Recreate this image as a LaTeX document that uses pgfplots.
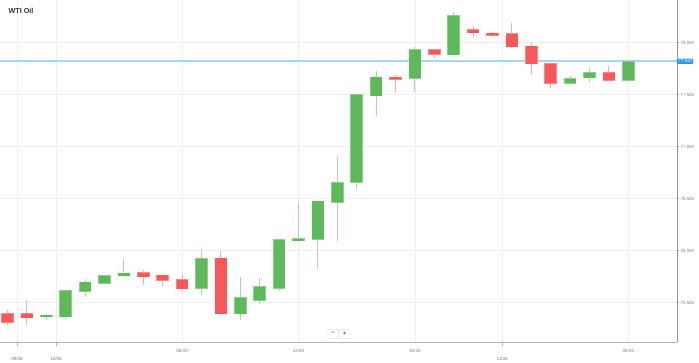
\documentclass[border=0pt]{standalone}
\usepackage{fontspec}
\setmainfont{Liberation Sans}
\usepackage{pgfplots}
\pgfplotsset{compat=1.18}
\usepackage{pgfplotstable}
\definecolor{cgreen}{RGB}{94,185,90}
\definecolor{cred}{RGB}{248,88,88}
\definecolor{gridc}{RGB}{238,238,238}
\definecolor{griddate}{RGB}{226,226,226}
\definecolor{pricebox}{RGB}{40,150,240}
\definecolor{labc}{RGB}{120,120,120}

\pgfplotstableread{
k o h l c
2  75.363 75.387 75.330 75.377
3  75.365 75.620 75.340 75.615
4  75.609 75.724 75.554 75.695
5  75.686 75.760 75.680 75.756
6  75.760 75.916 75.753 75.782
10 75.637 76.013 75.577 75.923
12 75.394 75.746 75.330 75.544
13 75.525 75.733 75.490 75.650
14 75.637 76.105 75.611 76.102
15 76.096 76.455 76.090 76.112
16 76.109 76.480 75.827 76.474
17 76.464 76.910 76.092 76.654
18 76.654 77.505 76.596 77.500
19 77.490 77.727 77.294 77.666
21 77.660 77.960 77.529 77.929
23 77.885 78.291 77.880 78.260
29 77.609 77.679 77.596 77.654
30 77.663 77.765 77.621 77.712
32 77.640 77.820 77.640 77.817
}\greentab

\pgfplotstableread{
k o h l c
0  75.394 75.426 75.280 75.313
1  75.394 75.525 75.285 75.356
7  75.788 75.813 75.669 75.750
8  75.760 75.762 75.654 75.714
9  75.721 75.779 75.618 75.635
11 75.926 75.993 75.387 75.394
20 77.666 77.688 77.529 77.650
22 77.929 77.935 77.856 77.890
24 78.125 78.157 78.051 78.096
25 78.089 78.106 78.054 78.070
26 78.083 78.183 77.945 77.962
27 77.962 78.000 77.698 77.798
28 77.794 77.800 77.563 77.609
31 77.708 77.775 77.635 77.638
}\redtab

\begin{document}
\begin{tikzpicture}[x=1pt,y=1pt]
\useasboundingbox (0,0) rectangle (699,362);
\begin{axis}[
  at={(0,19)}, anchor=south west,
  width=677pt, height=343pt, scale only axis,
  xmin=-0.387, xmax=34.51, ymin=75.118, ymax=78.416,
  clip=false,
  axis line style={draw=none},
  major tick length=2pt,
  tick align=outside,
  xtick={9,15,21,32},
  xticklabels={06:00,12:00,18:00,06:00},
  xtick style={draw=none},
  extra x ticks={0.49,2.5,25.5},
  extra x tick labels={09/06,10/06,11/06},
  extra x tick style={
    grid style={griddate, line width=0.7pt},
    xticklabel style={yshift=-7pt},
    xtick style={draw=labc!60, densely dotted},
    major tick length=3pt
  },
  xtick pos=bottom,
  xticklabel style={anchor=north, inner sep=0pt, yshift=-4.6pt,
    font=\fontsize{4.6}{5}\selectfont, text=labc},
  ytick={75.5,76,76.5,77,77.5,78},
  ytick pos=right, yticklabel pos=right,
  yticklabel style={anchor=west, inner sep=0pt, xshift=1.5pt,
    font=\fontsize{4.4}{5}\selectfont, text=labc,
    /pgf/number format/.cd, fixed, fixed zerofill, precision=3, assume math mode=true},
  ytick style={draw=labc!70, line width=0.4pt},
  grid=major,
  major grid style={gridc, line width=0.6pt},
  candle/.style={draw=none, mark=none, forget plot,
    error bars/y dir=both, error bars/y explicit, error bars/error mark=none,
    error bars/error bar style={#1}},
]
% price line
\addplot[color={rgb,255:red,168;green,213;blue,248}, line width=1.6pt, mark=none, forget plot, solid]
  coordinates {(-0.387,77.82) (34.51,77.82)};

% wicks
\addplot[candle={draw=cgreen!55, line width=0.9pt}]
  table[x=k, y expr=(\thisrow{h}+\thisrow{l})/2, y error expr=(\thisrow{h}-\thisrow{l})/2] {\greentab};
\addplot[candle={draw=cred!50, line width=0.9pt}]
  table[x=k, y expr=(\thisrow{h}+\thisrow{l})/2, y error expr=(\thisrow{h}-\thisrow{l})/2] {\redtab};

% bodies
\addplot[candle={draw=cgreen!70!white, line width=12.6pt}]
  table[x=k, y expr=(\thisrow{o}+\thisrow{c})/2, y error expr=abs(\thisrow{c}-\thisrow{o})/2+0.006] {\greentab};
\addplot[candle={draw=cgreen, line width=11.2pt}]
  table[x=k, y expr=(\thisrow{o}+\thisrow{c})/2, y error expr=abs(\thisrow{c}-\thisrow{o})/2] {\greentab};
\addplot[candle={draw=cred!70!white, line width=12.6pt}]
  table[x=k, y expr=(\thisrow{o}+\thisrow{c})/2, y error expr=abs(\thisrow{c}-\thisrow{o})/2+0.006] {\redtab};
\addplot[candle={draw=cred, line width=11.2pt}]
  table[x=k, y expr=(\thisrow{o}+\thisrow{c})/2, y error expr=abs(\thisrow{c}-\thisrow{o})/2] {\redtab};

% axis frame lines
\draw[gridc, line width=0.8pt] (rel axis cs:0,1) -- (rel axis cs:1,1);
\draw[labc!55, line width=1.3pt] (rel axis cs:0,0) -- (rel axis cs:1,0);
\draw[labc!80, line width=0.6pt] (rel axis cs:1,0) -- (rel axis cs:1,1);

% price label
\node[fill=pricebox, text=white, rounded corners=0.8pt, inner xsep=1pt, inner ysep=1pt,
  anchor=west, font=\fontsize{4.4}{5}\selectfont] at (axis cs:34.51,77.82) {\kern0.5pt77.820};
\end{axis}

% title
\node[anchor=west, inner sep=0pt, font=\bfseries\fontsize{7.2}{8}\selectfont, text={rgb,255:red,50;green,50;blue,50}] at (8.5,350.8) {WTI Oil};

% zoom buttons
\draw[fill=white, draw=black!12, rounded corners=0.8pt] (327.7,23.7) rectangle (338.3,32.7);
\draw[fill=white, draw=black!12, rounded corners=0.8pt] (339.2,23.7) rectangle (349.8,32.7);
\node[font=\bfseries\fontsize{6}{6}\selectfont, text=black!65] at (333,28.2) {−};
\node[font=\bfseries\fontsize{6}{6}\selectfont, text=black!65] at (344.5,28.2) {+};
\end{tikzpicture}
\end{document}
